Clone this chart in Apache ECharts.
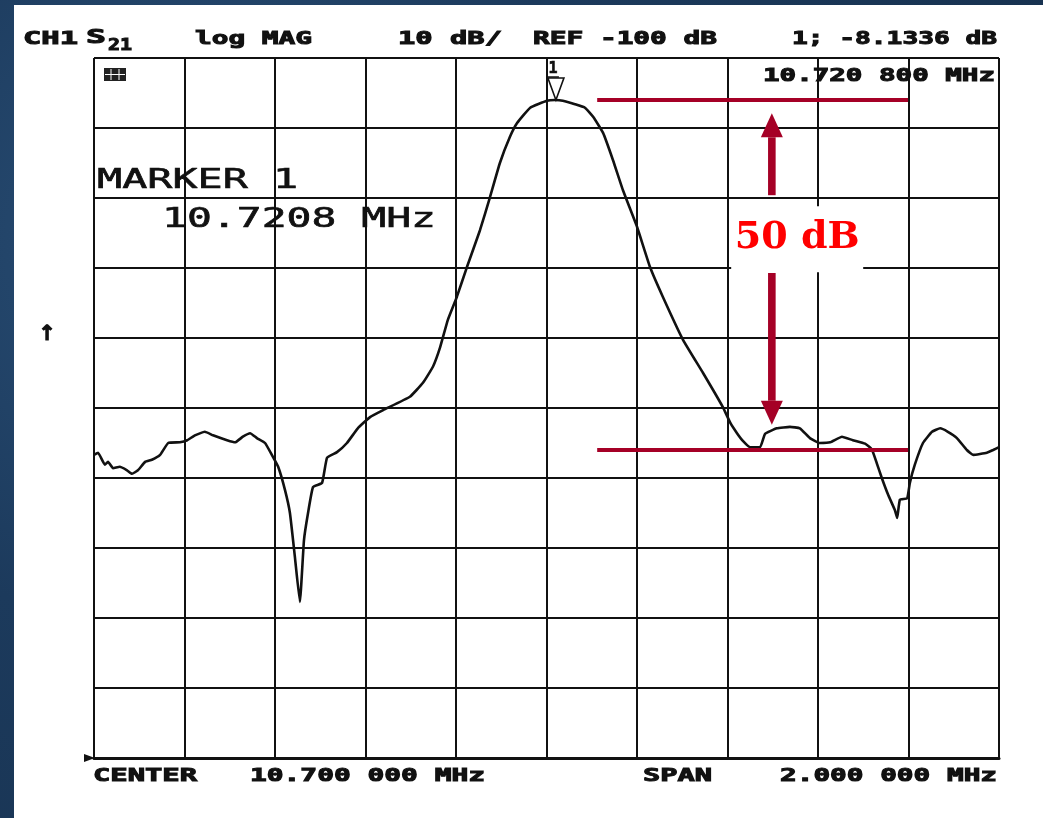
<!DOCTYPE html>
<html>
<head>
<meta charset="utf-8">
<script src="https://cdn.jsdelivr.net/npm/echarts@6/dist/echarts.min.js"></script>
<style>
  html, body { margin: 0; padding: 0; width: 1043px; height: 818px; overflow: hidden;
    background: radial-gradient(circle at 20% 30%, #2a5078 0, #1c3a5c 40%, #16304d 100%); }
  #paper { position: absolute; left: 14px; top: 5px; right: 0; bottom: 0; background: #fff; }
  #chart { position: absolute; left: 0; top: 0; width: 1043px; height: 818px; }
</style>
</head>
<body>
<div id="paper"></div>
<div id="chart"></div>
<script>
// Sweep setup (network analyser, S21 log magnitude)
const CENTER_MHZ = 10.7;
const SPAN_MHZ = 2.0;
const REF_DB = -100;
const DB_PER_DIV = 10;

// Measured trace: frequency (MHz) and S21 (dB)
const FREQ_MHZ = [
  9.700, 9.709, 9.724, 9.731, 9.742, 9.757, 9.773, 9.784, 9.797, 9.813,
  9.828, 9.846, 9.864, 9.890, 9.906, 9.923, 9.945, 9.963, 9.994, 10.012,
  10.029, 10.045, 10.060, 10.078, 10.093, 10.107, 10.122, 10.133, 10.144, 10.155,
  10.164, 10.173, 10.184, 10.204, 10.215, 10.237, 10.259, 10.283, 10.310, 10.339,
  10.398, 10.427, 10.449, 10.465, 10.482, 10.502, 10.524, 10.553, 10.575, 10.597,
  10.619, 10.635, 10.664, 10.701, 10.719, 10.736, 10.763, 10.785, 10.803, 10.825,
  10.847, 10.869, 10.900, 10.929, 10.957, 11.002, 11.046, 11.090, 11.106, 11.121,
  11.134, 11.150, 11.172, 11.183, 11.209, 11.238, 11.260, 11.282, 11.304, 11.327,
  11.353, 11.377, 11.404, 11.419, 11.430, 11.441, 11.455, 11.470, 11.475, 11.481,
  11.497, 11.503, 11.514, 11.532, 11.552, 11.570, 11.587, 11.607, 11.629, 11.643,
  11.673, 11.687, 11.700
];
const S21_DB = [
  -56.7, -56.4, -58.1, -57.7, -58.6, -58.4, -58.9, -59.4, -58.9, -57.7,
  -57.4, -56.7, -55.0, -54.9, -54.6, -53.9, -53.4, -53.9, -54.6, -54.9,
  -54.1, -53.6, -54.3, -55.0, -56.7, -58.4, -61.7, -65.0, -71.3, -77.7,
  -68.9, -65.0, -61.3, -60.7, -57.1, -56.3, -55.0, -52.9, -51.3, -50.3,
  -48.4, -46.4, -44.1, -41.3, -37.4, -34.1, -29.9, -24.6, -19.9, -15.0,
  -11.3, -9.3, -7.1, -6.1, -6.0, -6.1, -6.6, -7.1, -8.4, -10.7,
  -14.6, -18.9, -24.1, -29.9, -34.1, -40.3, -45.0, -49.9, -52.1, -53.6,
  -54.7, -55.6, -55.6, -53.7, -52.9, -52.7, -52.9, -54.3, -55.0, -54.9,
  -54.1, -54.6, -55.1, -55.9, -57.9, -60.0, -62.4, -64.6, -65.7, -63.1,
  -62.9, -60.7, -58.1, -55.0, -53.4, -52.9, -53.4, -54.3, -56.0, -56.7,
  -56.4, -56.0, -55.6
];

// Marker 1
const MARKER_MHZ = 10.7208;
const MARKER_DB = -6.0;

// 50 dB rejection annotation: passband and stopband levels, frequency extent
const LEVELS_DB = [-6.0, -56.0];
const LEVEL_SPAN_MHZ = [10.812, 11.499];
// Arrows: [frequency MHz, tail dB, tip dB]
const ARROWS = [[11.198, -19.6, -7.9], [11.198, -30.7, -52.4]];
const REJECTION_LABEL = ['50 dB', 11.254, -25.6];

// Instrument readout texts
const HEADER = ['CH1', 'S', '21', 'log MAG', '10 dB/', 'REF -100 dB', '1; -8.1336 dB'];
const MARKER_READOUT = ['10.720 800 MHz', 'MARKER 1', '10.7208 MHz'];
const FOOTER = ['CENTER', '10.700 000 MHz', 'SPAN', '2.000 000 MHz'];

const off = f => +(f - CENTER_MHZ).toFixed(4);
const half = SPAN_MHZ / 2;
const trace = FREQ_MHZ.map((f, i) => [off(f), S21_DB[i]]);

const INK = '#111';
const RED = '#a50026';
const MONO = '"DejaVu Sans Mono"';

// monospaced text stretched to a given width
function stretched(text, left, right, cy, size, weight, stroke) {
  const natural = text.length * 0.602 * size;
  return {
    type: 'text', x: left, y: cy, scaleX: (right - left) / natural, z: 10,
    style: { text, font: `${weight} ${size}px ${MONO}`, fill: INK,
      stroke: INK, lineWidth: stroke, align: 'left', verticalAlign: 'middle' }
  };
}

const graphics = [
  stretched(HEADER[0], 23, 78, 39, 18, 'bold', 1),
  stretched(HEADER[1], 86, 106, 38, 19, 'bold', 1),
  stretched(HEADER[2], 108, 132, 46, 16, 'bold', 1),
  stretched(HEADER[3], 195, 312, 39, 18, 'bold', 1),
  stretched(HEADER[4], 398, 502, 39, 18, 'bold', 1),
  stretched(HEADER[5], 533, 717, 39, 18, 'bold', 1),
  stretched(HEADER[6], 792, 997, 39, 18, 'bold', 1),
  stretched(MARKER_READOUT[0], 763, 995, 76, 18, 'bold', 1),
  stretched(MARKER_READOUT[1], 97, 298, 181, 27, 'normal', 0.6),
  stretched(MARKER_READOUT[2], 162, 436, 220, 27, 'normal', 0.6),
  stretched(FOOTER[0], 93, 197, 776, 18, 'bold', 1),
  stretched(FOOTER[1], 250, 485, 776, 18, 'bold', 1),
  stretched(FOOTER[2], 643, 712, 776, 18, 'bold', 1),
  stretched(FOOTER[3], 780, 997, 776, 18, 'bold', 1),
  // scale-direction arrow on the left margin
  { type: 'text', x: 47, y: 335, z: 10,
    style: { text: '↑', font: 'bold 21px "DejaVu Sans"', fill: INK, stroke: INK, lineWidth: 1,
      align: 'center', verticalAlign: 'middle' } },
  // reference-position pointer
  { type: 'polygon', z: 10, shape: { points: [[84, 754], [95, 758], [84, 762]] }, style: { fill: INK } },
  // display annotation block
  { type: 'group', z: 10, children: [
    { type: 'rect', shape: { x: 104, y: 68, width: 22, height: 13 }, style: { fill: '#222' } },
    { type: 'line', shape: { x1: 111, y1: 69, x2: 111, y2: 80 }, style: { stroke: '#fff', lineWidth: 1 } },
    { type: 'line', shape: { x1: 119, y1: 69, x2: 119, y2: 80 }, style: { stroke: '#fff', lineWidth: 1 } },
    { type: 'line', shape: { x1: 105, y1: 74.5, x2: 125, y2: 74.5 }, style: { stroke: '#fff', lineWidth: 1 } }
  ] }
];

const chart = echarts.init(document.getElementById('chart'), null, { renderer: 'canvas' });

chart.setOption({
  backgroundColor: 'transparent',
  animation: false,
  grid: { left: 94, right: 44, top: 58, bottom: 60, containLabel: false },
  xAxis: {
    type: 'value', min: -half, max: half, interval: SPAN_MHZ / 10,
    axisLine: { show: true, onZero: false, lineStyle: { color: INK, width: 3 } },
    axisTick: { show: false }, axisLabel: { show: false },
    splitLine: { show: true, showMinLine: true, showMaxLine: true, lineStyle: { color: INK, width: 2 } }
  },
  yAxis: {
    type: 'value', min: REF_DB, max: REF_DB + 10 * DB_PER_DIV, interval: DB_PER_DIV,
    axisLine: { show: false }, axisTick: { show: false }, axisLabel: { show: false },
    splitLine: { show: true, showMinLine: true, showMaxLine: true, lineStyle: { color: INK, width: 2 } }
  },
  graphic: graphics,
  series: [
    {
      name: 'S21', type: 'line', data: trace, showSymbol: false, smooth: 0.12,
      lineStyle: { color: INK, width: 2.6 }, z: 3
    },
    {
      // marker 1: open triangle pointing down onto the trace
      name: 'Marker 1', type: 'custom', z: 4,
      data: [[off(MARKER_MHZ), MARKER_DB]],
      renderItem: (params, api) => {
        const p = api.coord([api.value(0), api.value(1)]);
        return {
          type: 'group', children: [
            { type: 'polygon', shape: { points: [[p[0] - 8, p[1] - 22], [p[0] + 8, p[1] - 22], [p[0], p[1]]] },
              style: { fill: '#fff', stroke: INK, lineWidth: 1.6 } },
            { type: 'text', x: p[0] - 3, y: p[1] - 31,
              style: { text: '1', font: `bold 15px ${MONO}`, fill: INK, stroke: INK, lineWidth: 0.6,
                align: 'center', verticalAlign: 'middle' } },
            { type: 'line', shape: { x1: p[0] - 8, y1: p[1] - 23, x2: p[0] + 3, y2: p[1] - 23 },
              style: { stroke: INK, lineWidth: 1.5 } }
          ]
        };
      }
    },
    {
      name: 'Rejection', type: 'custom', z: 5,
      data: ARROWS.map(a => [off(a[0]), a[1], a[2]]),
      renderItem: (params, api) => {
        const x = api.value(0);
        const p0 = api.coord([x, api.value(1)]);
        const p1 = api.coord([x, api.value(2)]);
        const dir = p1[1] > p0[1] ? 1 : -1;
        const headLen = 24, headHalf = 11, shaftHalf = 3.8;
        const baseY = p1[1] - dir * headLen;
        return {
          type: 'group', children: [
            { type: 'rect', shape: { x: p0[0] - shaftHalf, y: Math.min(p0[1], baseY),
                width: shaftHalf * 2, height: Math.abs(baseY - p0[1]) }, style: { fill: RED } },
            { type: 'polygon', shape: { points: [[p1[0] - headHalf, baseY], [p1[0] + headHalf, baseY], [p1[0], p1[1]]] },
              style: { fill: RED } }
          ]
        };
      },
      markLine: {
        silent: true, symbol: 'none', animation: false,
        lineStyle: { color: RED, width: 4, type: 'solid', opacity: 1 }, label: { show: false },
        data: LEVELS_DB.map(db => [
          { coord: [off(LEVEL_SPAN_MHZ[0]), db] },
          { coord: [off(LEVEL_SPAN_MHZ[1]), db] }
        ])
      }
    },
    {
      name: 'Rejection label', type: 'custom', z: 6,
      data: [[off(REJECTION_LABEL[1]), REJECTION_LABEL[2]]],
      renderItem: (params, api) => {
        const p = api.coord([api.value(0), api.value(1)]);
        return {
          type: 'group', children: [
            { type: 'rect', shape: { x: p[0] - 66, y: p[1] - 31, width: 132, height: 66 }, style: { fill: '#fff' } },
            { type: 'text', x: p[0], y: p[1] + 1,
              style: { text: REJECTION_LABEL[0], font: 'bold 38px "DejaVu Serif"', fill: '#ff0000',
                align: 'center', verticalAlign: 'middle' } }
          ]
        };
      }
    }
  ]
});
</script>
</body>
</html>
